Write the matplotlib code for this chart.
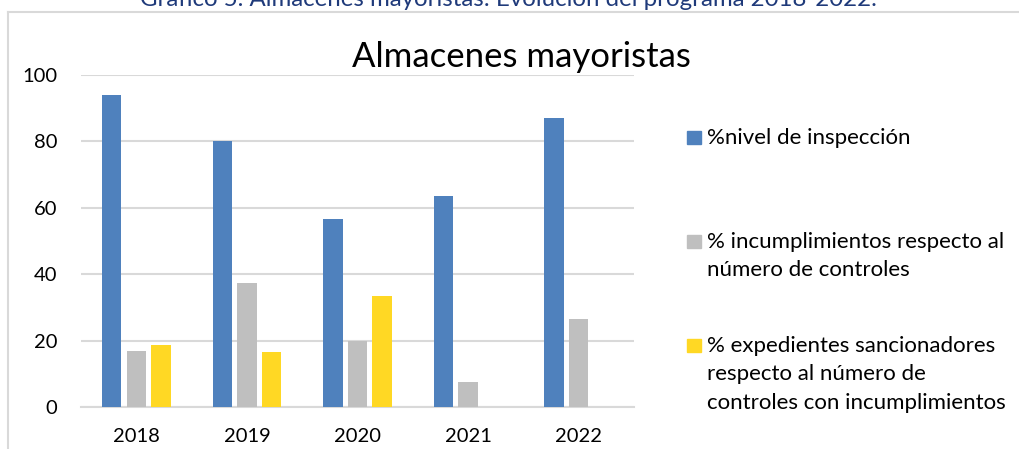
import numpy as np
import matplotlib
matplotlib.use("Agg")
import matplotlib.pyplot as plt
from matplotlib.patches import Rectangle
from matplotlib.lines import Line2D

plt.rcParams['font.family'] = ['Lato', 'DejaVu Sans']

# data
years = ['2018', '2019', '2020', '2021', '2022']
nivel_inspeccion = [94.1, 80.1, 56.6, 63.5, 86.9]
incumplimientos = [17.0, 37.2, 20.0, 7.4, 26.4]
expedientes = [18.7, 16.6, 33.4, np.nan, np.nan]

series_labels = ['%nivel de inspección',
                 '% incumplimientos respecto al\nnúmero de controles',
                 '% expedientes sancionadores\nrespecto al número de\ncontroles con incumplimientos']
colors = ['#4F81BD', '#BFBFBF', '#FFD824']

W, H = 1020, 449
fig = plt.figure(figsize=(W / 100, H / 100), dpi=100)

# outer chart frame (top and left edge, the rest runs off the image)
fig.add_artist(Line2D([8 / W, 1.0], [1 - 12 / H] * 2, transform=fig.transFigure,
                      color='#D9D9D9', linewidth=1.5))
fig.add_artist(Line2D([8 / W] * 2, [0, 1 - 12 / H], transform=fig.transFigure,
                      color='#D9D9D9', linewidth=1.5))

# caption, cut at the top of the image
fig.text(508 / W, 1 - 6 / H, 'Gráfico 5. Almacenes mayoristas: Evolución del programa 2018-2022.',
         ha='center', va='baseline', fontsize=17.3, color='#1F3A7A')

ax = fig.add_axes([81 / W, (H - 407) / H, 553 / W, 332 / H])
x = np.arange(len(years))
off = 0.222
bw = 0.176
for k, vals in enumerate([nivel_inspeccion, incumplimientos, expedientes]):
    ax.bar(x + (k - 1) * off, vals, width=bw, color=colors[k], zorder=3)

ax.set_xlim(-0.5, len(years) - 0.5)
ax.set_ylim(0, 100)
ax.set_yticks([0, 20, 40, 60, 80, 100])
ax.set_xticks(x)
ax.set_xticklabels(years)
ax.yaxis.grid(True, color='#D9D9D9', linewidth=1.5, zorder=0)
ax.set_axisbelow(True)
for s in ['top', 'right', 'left']:
    ax.spines[s].set_visible(False)
ax.spines['bottom'].set_color('#D9D9D9')
ax.spines['bottom'].set_linewidth(1.5)
ax.tick_params(axis='both', length=0, labelsize=14.5, colors='#000000')
ax.tick_params(axis='y', pad=17)
ax.tick_params(axis='x', pad=15)

ax.set_title('Almacenes mayoristas', fontsize=25, pad=6, x=(521 - 81) / 553)

# legend drawn by hand so the squares line up with the first text line
first_baseline = [144, 248, 352]
for k, lab in enumerate(series_labels):
    b = first_baseline[k]
    fig.patches.append(Rectangle((687 / W, 1 - b / H), 14 / W, 13 / H,
                                 transform=fig.transFigure, color=colors[k]))
    for i, line in enumerate(lab.split('\n')):
        fig.text(707 / W, 1 - (b + i * 28.5) / H, line, ha='left', va='baseline',
                 fontsize=16)

fig.savefig('out.png', dpi=100)
